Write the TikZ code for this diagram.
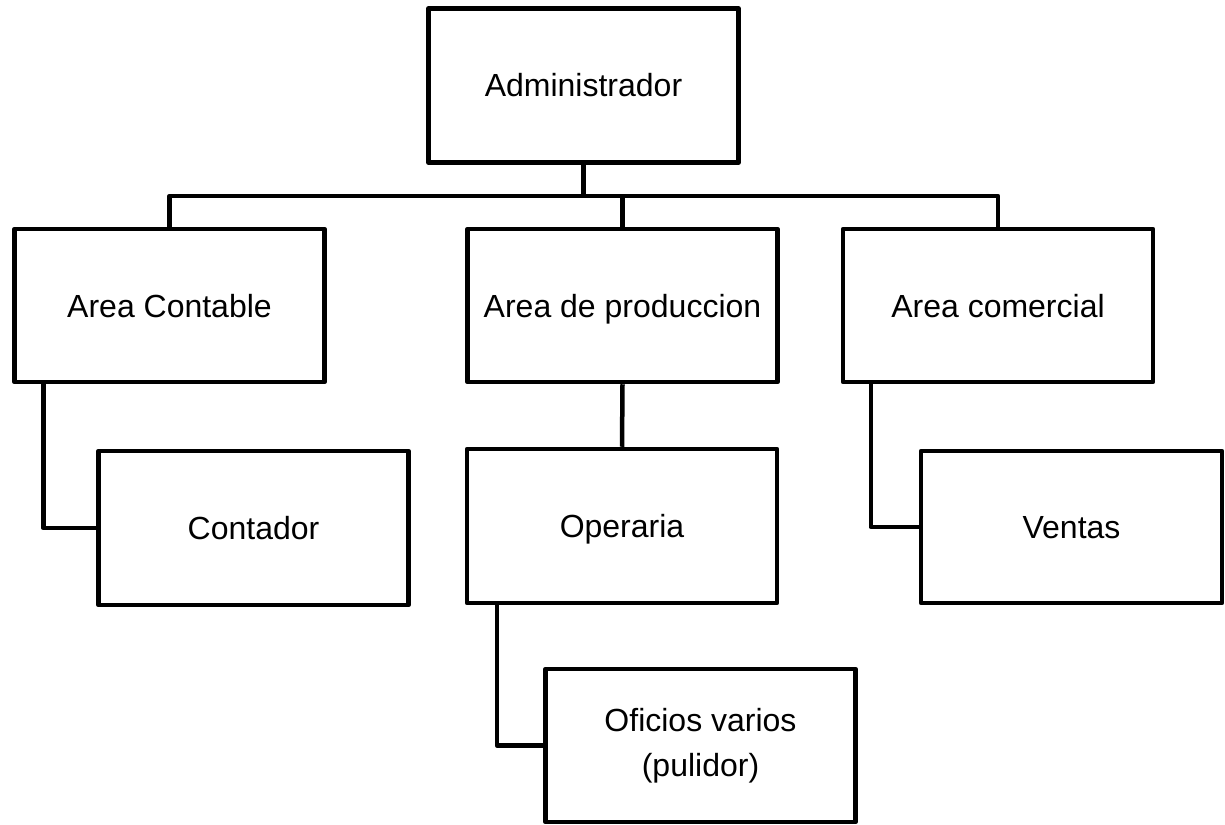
\documentclass[tikz,border=0pt]{standalone}
\usepackage{fontspec}
\setmainfont{Liberation Sans}
\usetikzlibrary{calc}
\begin{document}
\begin{tikzpicture}[x=1pt,y=-1pt,
  box/.style={draw=black, line width=4.5pt, line join=round, fill=white, inner sep=0pt,
    minimum width=310pt, minimum height=154pt, align=center,
    text height=23pt, text depth=0pt,
    font=\fontsize{32}{45}\selectfont},
  link/.style={draw=black, line width=4.5pt, line join=round}]
\useasboundingbox (0,0) rectangle (1225,824);
\node[box] (admin) at (583.5,85.5) {Administrador};
\node[box, minimum height=153pt] (contable) at (169.5,305.5) {Area Contable};
\node[box, minimum height=153pt] (prod) at (622.5,305.5) {Area de produccion};
\node[box, minimum height=153pt] (comercial) at (998,305.5) {Area comercial};
\node[box] (contador) at (253.5,528) {Contador};
\node[box] (operaria) at (622,526) {Operaria};
\node[box, minimum width=301pt, minimum height=152pt] (ventas) at (1071.5,527) {Ventas};
\node[box, minimum height=153pt, text height={}, text depth={}] (oficios) at (700.5,745.5) {Oficios varios\\(pulidor)};
\coordinate (bus) at (583.5,196);
\draw[link] (admin.south) -- (bus);
\draw[link] (contable.north) -- (contable.north |- bus) -- (comercial.north |- bus) -- (comercial.north);
\draw[link] (prod.north) -- (prod.north |- bus);
\draw[link] (prod.south) -- (operaria.north);
\draw[link] ($(contable.south west)+(31,0)$) |- (contador.west);
\draw[link] ($(comercial.south west)+(30,0)$) |- (ventas.west);
\draw[link] ($(operaria.south west)+(32,0)$) |- (oficios.west);
\end{tikzpicture}
\end{document}
